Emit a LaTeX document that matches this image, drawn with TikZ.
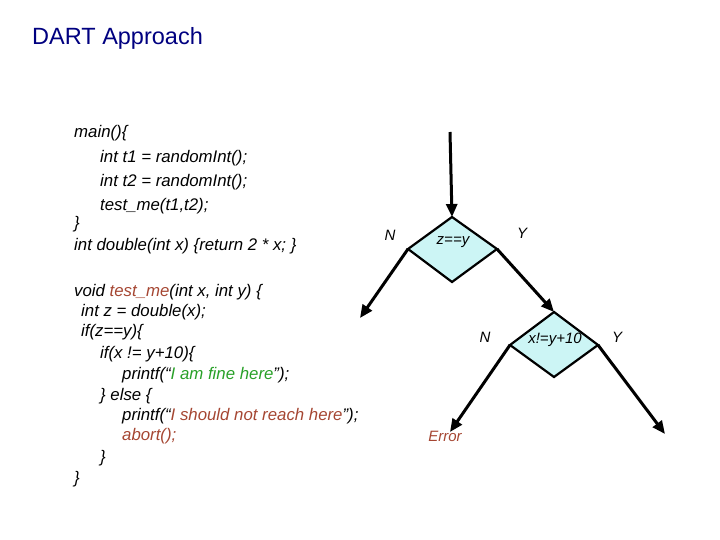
\documentclass[tikz,border=0pt]{standalone}
\usepackage{fontspec}
\setmainfont{Liberation Sans}
\usetikzlibrary{arrows.meta}
\definecolor{titleblue}{RGB}{0,0,128}
\definecolor{brn}{RGB}{165,70,50}
\definecolor{grn}{RGB}{40,160,40}
\definecolor{dfill}{RGB}{204,245,245}
\tikzset{code/.style={anchor=base west,inner sep=0,font=\fontsize{16.8}{18}\selectfont\itshape},
lab/.style={inner sep=0,font=\fontsize{15}{17}\selectfont\itshape},
arr/.style={line width=3pt,-{Triangle[length=13pt,width=11pt]}},
dia/.style={draw,line width=2.2pt,fill=dfill}}
\begin{document}
\begin{tikzpicture}[x=1pt,y=-1pt]
\useasboundingbox (0,0) rectangle (720,540);
\node[anchor=base west,inner sep=0,text=titleblue,font=\fontsize{23.5}{26}\selectfont] (title) at (32,45) {DART Approach};
\node[code] (c1) at (74,138) {main()\{};
\node[code] (c2) at (100,163) {int t1 = randomInt();};
\node[code] (c3) at (100,187) {int t2 = randomInt();};
\node[code] (c4) at (100,211) {test\_me(t1,t2);};
\node[code] (c5) at (74,229) {\}};
\node[code] (c6) at (74,251) {int double(int x) \{return 2 * x; \}};
\node[code] (c7) at (74,296) {void \textcolor{brn}{test\_me}(int x, int y) \{};
\node[code] (c8) at (81,316) {int z = double(x);};
\node[code] (c9) at (81,336) {if(z==y)\{};
\node[code] (c10) at (100,358) {if(x != y+10)\{};
\node[code] (c11) at (122,379) {printf(``\textcolor{grn}{I am fine here}'');};
\node[code] (c12) at (100,400) {\} else \{};
\node[code] (c13) at (122,420) {printf(``\textcolor{brn}{I should not reach here}'');};
\node[code] (c14) at (122,440) {\textcolor{brn}{abort();}};
\node[code] (c15) at (100,462) {\}};
\node[code] (c16) at (74,483) {\}};
\draw[dia] (452,217) coordinate (d1t) -- (497,249) coordinate (d1r) -- (452,282) -- (408,249) coordinate (d1l) -- cycle;
\draw[dia] (554,312) coordinate (d2t) -- (598,345) coordinate (d2r) -- (554,377) -- (510,345) coordinate (d2l) -- cycle;
\node[lab] (t1) at (453,242) {z==y};
\node[lab] (t2) at (555,340) {x!=y+10};
\coordinate (s) at (450,132);
\coordinate (e1) at (360,318);
\coordinate (e3) at (665,434);
\coordinate (e2) at (450,432);
\draw[arr] (s) -- (d1t);
\draw[arr] (d1l) -- (e1);
\draw[arr] (d1r) -- (d2t);
\draw[arr] (d2l) -- (e2);
\draw[arr] (d2r) -- (e3);
\node[lab] (n1) at (390,235) {N};
\node[lab] (y1) at (522,233) {Y};
\node[lab] (n2) at (485,337) {N};
\node[lab] (y2) at (617,337) {Y};
\node[lab,text=brn] (err) at (445,436) {Error};
\end{tikzpicture}
\end{document}
